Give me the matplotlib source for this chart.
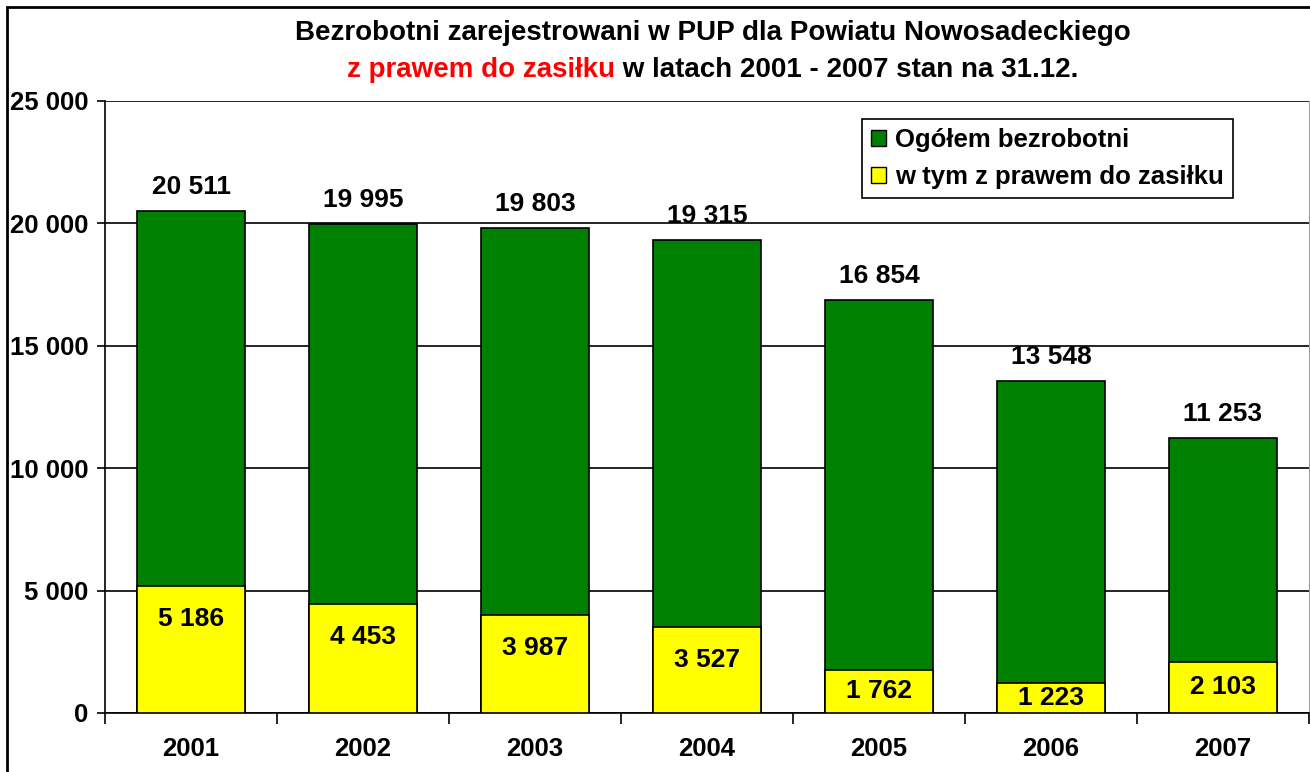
import matplotlib.pyplot as plt
from matplotlib.patches import Patch, Rectangle

plt.rcParams['font.family'] = ['Liberation Sans', 'DejaVu Sans']
plt.rcParams['font.weight'] = 'bold'

# data
years = ['2001', '2002', '2003', '2004', '2005', '2006', '2007']
total = [20511, 19995, 19803, 19315, 16854, 13548, 11253]
with_benefit = [5186, 4453, 3987, 3527, 1762, 1223, 2103]
yticks = [0, 5000, 10000, 15000, 20000, 25000]


def fmt(v):
    return '{:,}'.format(v).replace(',', ' ')


W, H = 1310, 772
fig = plt.figure(figsize=(W / 100, H / 100), dpi=100)
ax = fig.add_axes([105 / W, 1 - 713 / H, (1309 - 105) / W, (713 - 101) / H])

x = range(len(years))
ax.bar(x, total, width=0.63, color='#008000', edgecolor='black', linewidth=1.2, zorder=3)
ax.bar(x, with_benefit, width=0.63, color='#FFFF00', edgecolor='black', linewidth=1.2, zorder=4)

# value labels
for i, (t, b) in enumerate(zip(total, with_benefit)):
    ax.annotate(fmt(t), (i, t), xytext=(0, 24), textcoords='offset pixels',
                ha='center', va='center', fontsize=19, fontweight='bold', zorder=5)
    ax.text(i, max(b - 1350, b / 2), fmt(b), ha='center', va='center',
            fontsize=19, fontweight='bold', zorder=5)

ax.set_xlim(-0.5, len(years) - 0.5)
ax.set_ylim(0, 25000)
ax.set_yticks(yticks)
ax.set_yticklabels([fmt(v) for v in yticks], fontsize=18.5, fontweight='bold')
ax.set_xticks(list(x))
ax.set_xticklabels(years, fontsize=18.5, fontweight='bold')
ax.set_xticks([i - 0.5 for i in range(len(years) + 1)], minor=True)
ax.tick_params(axis='x', which='major', length=0, pad=17)
ax.tick_params(axis='x', which='minor', length=8, width=1.2, direction='out')
ax.tick_params(axis='y', length=6, width=1.2, direction='out', pad=6)

ax.grid(axis='y', color='black', linewidth=1.2, zorder=0)
ax.set_axisbelow(True)
ax.spines['top'].set_visible(False)
ax.spines['right'].set_color('#a0a0a0')
ax.spines['left'].set_linewidth(1.2)
ax.spines['bottom'].set_linewidth(1.2)

handles = [Patch(facecolor='#008000', edgecolor='black', label='Ogółem bezrobotni'),
           Patch(facecolor='#FFFF00', edgecolor='black', label='w tym z prawem do zasiłku')]
leg = ax.legend(handles=handles, loc='upper right',
                bbox_to_anchor=((1233 - 105) / 1204, (713 - 119) / 612),
                prop={'size': 18.5, 'weight': 'bold'}, fancybox=False, edgecolor='black',
                framealpha=1, handlelength=0.6, handleheight=0.6, handletextpad=0.35,
                borderpad=0.35, labelspacing=0.5, borderaxespad=0)
leg.get_frame().set_linewidth(1.2)

# title
fig.text(713 / W, 1 - 33 / H, 'Bezrobotni zarejestrowani w PUP dla Powiatu Nowosadeckiego',
         ha='center', va='center', fontsize=20, fontweight='bold')
red = fig.text(0, 1 - 70 / H, 'z prawem do zasiłku', color='#FF0000',
               ha='left', va='center', fontsize=20, fontweight='bold')
black = fig.text(0, 1 - 70 / H, ' w latach 2001 - 2007 stan na 31.12.', color='black',
                 ha='left', va='center', fontsize=20, fontweight='bold')
r = fig.canvas.get_renderer()
w1 = red.get_window_extent(r).width
w2 = black.get_window_extent(r).width
x0 = 713 - (w1 + w2) / 2
red.set_x(x0 / W)
black.set_x((x0 + w1) / W)

# outer frame
fig.patches.append(Rectangle((7 / W, -0.1), 1.2, 1 - 7 / H + 0.1, transform=fig.transFigure,
                             fill=False, edgecolor='black', linewidth=2))

fig.savefig('out.png', dpi=100)
